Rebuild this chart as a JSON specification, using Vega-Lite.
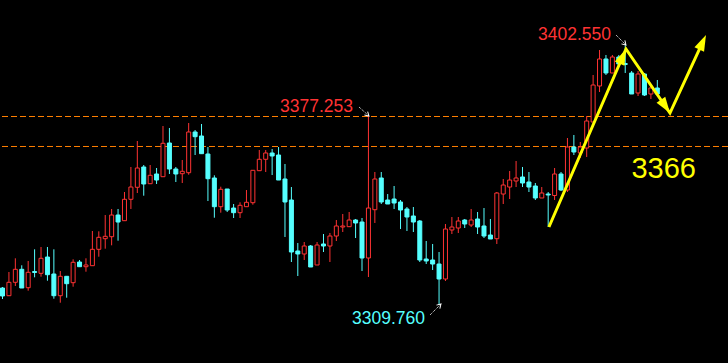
{
"$schema":"https://vega.github.io/schema/vega-lite/v6.json",
"width":728,"height":363,
"autosize":{"type":"none"},
"padding":0,
"background":"#000000",
"config":{"view":{"stroke":null}},
"datasets":{
"levels":[{"p":3377.07},{"p":3366.36}],
"candles":[
{"i":1,"o":3315.82,"h":3316.18,"l":3311.89,"c":3312.97,"d":"down"},
{"i":2,"o":3313.07,"h":3321.54,"l":3313.07,"c":3317.86,"d":"up"},
{"i":3,"o":3317.86,"h":3326.43,"l":3316.54,"c":3322.50,"d":"up"},
{"i":4,"o":3322.50,"h":3323.93,"l":3315.82,"c":3315.82,"d":"down"},
{"i":5,"o":3315.93,"h":3325.47,"l":3314.86,"c":3321.43,"d":"up"},
{"i":6,"o":3321.72,"h":3329.64,"l":3319.64,"c":3321.36,"d":"down"},
{"i":7,"o":3321.07,"h":3330.47,"l":3319.86,"c":3326.43,"d":"up"},
{"i":8,"o":3326.89,"h":3330.47,"l":3318.43,"c":3320.57,"d":"down"},
{"i":9,"o":3320.82,"h":3329.64,"l":3312.00,"c":3313.07,"d":"down"},
{"i":10,"o":3313.07,"h":3321.89,"l":3310.57,"c":3320.00,"d":"up"},
{"i":11,"o":3320.00,"h":3320.00,"l":3312.36,"c":3317.36,"d":"down"},
{"i":12,"o":3317.72,"h":3326.07,"l":3316.29,"c":3325.00,"d":"up"},
{"i":13,"o":3325.11,"h":3325.82,"l":3323.43,"c":3323.43,"d":"down"},
{"i":14,"o":3323.43,"h":3326.43,"l":3321.64,"c":3324.04,"d":"up"},
{"i":15,"o":3323.79,"h":3336.18,"l":3323.79,"c":3329.64,"d":"up"},
{"i":16,"o":3329.64,"h":3336.07,"l":3327.00,"c":3333.93,"d":"up"},
{"i":17,"o":3333.43,"h":3341.89,"l":3329.86,"c":3334.29,"d":"up"},
{"i":18,"o":3334.14,"h":3344.04,"l":3331.07,"c":3341.89,"d":"up"},
{"i":19,"o":3341.89,"h":3344.04,"l":3332.72,"c":3339.39,"d":"down"},
{"i":20,"o":3339.86,"h":3350.11,"l":3339.86,"c":3347.50,"d":"up"},
{"i":21,"o":3347.50,"h":3359.04,"l":3344.04,"c":3351.89,"d":"up"},
{"i":22,"o":3351.79,"h":3368.32,"l":3349.75,"c":3358.68,"d":"up"},
{"i":23,"o":3359.04,"h":3359.75,"l":3348.79,"c":3352.97,"d":"down"},
{"i":24,"o":3353.07,"h":3359.75,"l":3353.07,"c":3356.07,"d":"up"},
{"i":25,"o":3356.54,"h":3358.68,"l":3352.97,"c":3354.39,"d":"down"},
{"i":26,"o":3355.57,"h":3373.68,"l":3355.57,"c":3367.50,"d":"up"},
{"i":27,"o":3367.61,"h":3372.97,"l":3356.54,"c":3358.32,"d":"down"},
{"i":28,"o":3358.32,"h":3359.04,"l":3353.68,"c":3356.54,"d":"down"},
{"i":29,"o":3356.64,"h":3361.54,"l":3353.32,"c":3357.50,"d":"up"},
{"i":30,"o":3357.00,"h":3374.75,"l":3356.29,"c":3371.54,"d":"up"},
{"i":31,"o":3371.54,"h":3372.25,"l":3363.32,"c":3369.86,"d":"down"},
{"i":32,"o":3370.11,"h":3374.39,"l":3363.79,"c":3363.79,"d":"down"},
{"i":33,"o":3363.68,"h":3366.18,"l":3346.89,"c":3354.86,"d":"down"},
{"i":34,"o":3355.11,"h":3356.07,"l":3340.93,"c":3344.86,"d":"down"},
{"i":35,"o":3344.86,"h":3352.00,"l":3342.72,"c":3351.07,"d":"up"},
{"i":36,"o":3351.18,"h":3351.18,"l":3342.97,"c":3343.68,"d":"down"},
{"i":37,"o":3344.39,"h":3345.82,"l":3340.82,"c":3342.72,"d":"down"},
{"i":38,"o":3342.72,"h":3346.43,"l":3340.82,"c":3345.36,"d":"up"},
{"i":39,"o":3344.86,"h":3350.82,"l":3344.86,"c":3346.43,"d":"up"},
{"i":40,"o":3346.29,"h":3357.86,"l":3345.57,"c":3357.86,"d":"up"},
{"i":41,"o":3357.72,"h":3365.11,"l":3357.72,"c":3361.79,"d":"up"},
{"i":42,"o":3361.79,"h":3365.11,"l":3357.25,"c":3364.04,"d":"up"},
{"i":43,"o":3364.04,"h":3365.47,"l":3356.18,"c":3362.97,"d":"down"},
{"i":44,"o":3363.32,"h":3366.18,"l":3354.39,"c":3354.39,"d":"down"},
{"i":45,"o":3354.75,"h":3360.11,"l":3334.04,"c":3346.54,"d":"down"},
{"i":46,"o":3347.25,"h":3351.89,"l":3325.11,"c":3328.68,"d":"down"},
{"i":47,"o":3329.04,"h":3331.89,"l":3320.11,"c":3327.97,"d":"down"},
{"i":48,"o":3327.97,"h":3332.25,"l":3325.82,"c":3330.82,"d":"up"},
{"i":49,"o":3330.82,"h":3331.18,"l":3323.32,"c":3323.32,"d":"down"},
{"i":50,"o":3324.04,"h":3332.25,"l":3324.04,"c":3331.18,"d":"up"},
{"i":51,"o":3331.54,"h":3335.11,"l":3328.68,"c":3330.82,"d":"down"},
{"i":52,"o":3330.82,"h":3335.47,"l":3325.11,"c":3334.39,"d":"up"},
{"i":53,"o":3334.39,"h":3340.11,"l":3332.61,"c":3337.97,"d":"up"},
{"i":54,"o":3337.61,"h":3342.25,"l":3335.82,"c":3337.97,"d":"up"},
{"i":55,"o":3337.72,"h":3342.97,"l":3337.72,"c":3340.11,"d":"up"},
{"i":56,"o":3340.11,"h":3340.47,"l":3333.68,"c":3339.04,"d":"down"},
{"i":57,"o":3339.39,"h":3340.82,"l":3321.89,"c":3326.54,"d":"down"},
{"i":58,"o":3326.54,"h":3377.25,"l":3319.75,"c":3344.39,"d":"up"},
{"i":59,"o":3343.79,"h":3357.25,"l":3339.04,"c":3354.75,"d":"up"},
{"i":60,"o":3355.11,"h":3357.25,"l":3345.82,"c":3346.54,"d":"down"},
{"i":61,"o":3347.25,"h":3349.39,"l":3345.82,"c":3345.82,"d":"down"},
{"i":62,"o":3347.61,"h":3352.25,"l":3344.04,"c":3346.18,"d":"down"},
{"i":63,"o":3346.54,"h":3347.25,"l":3336.89,"c":3343.68,"d":"down"},
{"i":64,"o":3344.04,"h":3344.75,"l":3336.18,"c":3341.18,"d":"down"},
{"i":65,"o":3341.54,"h":3344.75,"l":3335.82,"c":3339.39,"d":"down"},
{"i":66,"o":3339.75,"h":3340.11,"l":3325.11,"c":3325.82,"d":"down"},
{"i":67,"o":3326.18,"h":3332.61,"l":3324.39,"c":3325.47,"d":"down"},
{"i":68,"o":3325.82,"h":3331.54,"l":3322.25,"c":3324.39,"d":"down"},
{"i":69,"o":3324.39,"h":3328.68,"l":3309.76,"c":3319.04,"d":"down"},
{"i":70,"o":3319.04,"h":3338.68,"l":3318.32,"c":3336.89,"d":"up"},
{"i":71,"o":3336.54,"h":3341.18,"l":3335.11,"c":3337.61,"d":"up"},
{"i":72,"o":3337.25,"h":3341.18,"l":3335.47,"c":3339.75,"d":"up"},
{"i":73,"o":3340.11,"h":3340.47,"l":3337.25,"c":3338.68,"d":"down"},
{"i":74,"o":3338.32,"h":3344.04,"l":3337.61,"c":3340.11,"d":"up"},
{"i":75,"o":3340.47,"h":3342.97,"l":3335.11,"c":3337.61,"d":"down"},
{"i":76,"o":3337.97,"h":3344.39,"l":3333.68,"c":3334.39,"d":"down"},
{"i":77,"o":3334.75,"h":3340.47,"l":3333.32,"c":3333.32,"d":"down"},
{"i":78,"o":3333.43,"h":3350.11,"l":3331.54,"c":3349.75,"d":"up"},
{"i":79,"o":3349.39,"h":3354.75,"l":3345.82,"c":3352.61,"d":"up"},
{"i":80,"o":3351.89,"h":3357.61,"l":3347.61,"c":3354.39,"d":"up"},
{"i":81,"o":3354.04,"h":3361.18,"l":3351.89,"c":3355.11,"d":"up"},
{"i":82,"o":3355.47,"h":3359.04,"l":3351.89,"c":3353.32,"d":"down"},
{"i":83,"o":3353.68,"h":3357.25,"l":3350.11,"c":3351.89,"d":"down"},
{"i":84,"o":3352.25,"h":3353.32,"l":3347.25,"c":3347.97,"d":"down"},
{"i":85,"o":3347.97,"h":3351.89,"l":3347.97,"c":3349.75,"d":"up"},
{"i":86,"o":3349.39,"h":3350.11,"l":3337.61,"c":3349.04,"d":"down"},
{"i":87,"o":3348.86,"h":3358.68,"l":3347.25,"c":3356.54,"d":"up"},
{"i":88,"o":3356.54,"h":3357.25,"l":3350.46,"c":3350.82,"d":"down"},
{"i":89,"o":3350.82,"h":3369.39,"l":3350.11,"c":3366.18,"d":"up"},
{"i":90,"o":3366.18,"h":3370.47,"l":3363.32,"c":3364.39,"d":"down"},
{"i":91,"o":3364.04,"h":3367.97,"l":3362.25,"c":3366.18,"d":"up"},
{"i":92,"o":3365.82,"h":3377.25,"l":3362.61,"c":3375.47,"d":"up"},
{"i":93,"o":3375.11,"h":3391.89,"l":3375.11,"c":3388.32,"d":"up"},
{"i":94,"o":3387.97,"h":3400.82,"l":3385.82,"c":3397.61,"d":"up"},
{"i":95,"o":3397.61,"h":3399.04,"l":3391.89,"c":3392.61,"d":"down"},
{"i":96,"o":3392.61,"h":3399.04,"l":3392.61,"c":3398.32,"d":"up"},
{"i":97,"o":3398.32,"h":3399.04,"l":3395.82,"c":3395.82,"d":"down"},
{"i":98,"o":3396.00,"h":3402.55,"l":3392.61,"c":3395.64,"d":"down"},
{"i":99,"o":3392.61,"h":3393.32,"l":3385.11,"c":3385.11,"d":"down"},
{"i":100,"o":3385.47,"h":3393.32,"l":3384.39,"c":3392.25,"d":"up"},
{"i":101,"o":3392.25,"h":3392.61,"l":3384.39,"c":3384.75,"d":"down"},
{"i":102,"o":3385.11,"h":3388.32,"l":3383.32,"c":3387.25,"d":"up"},
{"i":103,"o":3387.25,"h":3390.11,"l":3385.11,"c":3385.11,"d":"down"}
],
"path":[{"k":1,"i":86.12,"p":3337.61},{"k":2,"i":98.12,"p":3401.18},{"k":3,"i":104.97,"p":3378.32},{"k":4,"i":110.19,"p":3404.25}],
"heads":[{"id":1,"i":98.12,"p":3401.18},{"id":2,"i":104.97,"p":3378.32},{"id":3,"i":110.58,"p":3406.18}],
"ptr":[{"id":1,"i":96.56,"p":3406.18,"i2":98.12,"p2":3402.61},{"id":2,"i":56.53,"p":3380.47,"i2":58.09,"p2":3377.25},{"id":3,"i":67.59,"p":3306.18,"i2":69.30,"p2":3310.11}],
"labels":[{"id":1,"t":"3402.550","i":95.78,"p":3404.57},{"id":2,"t":"3377.253","i":55.59,"p":3378.79},{"id":3,"t":"3309.760","i":66.81,"p":3302.86},{"id":4,"t":"3366","i":109.02,"p":3355.11}]
},
"layer":[
{"data":{"name":"levels"},"mark":{"type":"rule","color":"#ff7f00","strokeDash":[6,3],"strokeWidth":1},
 "encoding":{"y":{"field":"p","type":"quantitative","scale":{"domain":[3289.04,3418.68],"nice":false,"zero":false,"padding":0},"axis":null}}},
{"data":{"name":"candles"},"mark":{"type":"rule","strokeWidth":1},
 "encoding":{
  "x":{"field":"i","type":"quantitative","scale":{"domain":[0.61,114.01],"nice":false,"zero":false,"padding":0},"axis":null},
  "y":{"field":"l","type":"quantitative","scale":{"domain":[3289.04,3418.68],"nice":false,"zero":false,"padding":0},"axis":null},
  "y2":{"field":"h"},
  "color":{"field":"d","type":"nominal","scale":{"domain":["up","down"],"range":["#ff3333","#55ffff"]},"legend":null}}},
{"data":{"name":"candles"},"mark":{"type":"bar","size":4,"strokeWidth":1},
 "encoding":{
  "x":{"field":"i","type":"quantitative","scale":{"domain":[0.61,114.01],"nice":false,"zero":false,"padding":0},"axis":null},
  "y":{"field":"o","type":"quantitative","scale":{"domain":[3289.04,3418.68],"nice":false,"zero":false,"padding":0},"axis":null},
  "y2":{"field":"c"},
  "fill":{"field":"d","type":"nominal","scale":{"domain":["up","down"],"range":["#000000","#55ffff"]},"legend":null},
  "stroke":{"field":"d","type":"nominal","scale":{"domain":["up","down"],"range":["#ff3333","#55ffff"]},"legend":null}}},
{"data":{"name":"path"},"mark":{"type":"line","color":"#ffff00","strokeWidth":3,"strokeJoin":"miter"},
 "encoding":{
  "x":{"field":"i","type":"quantitative","axis":null},
  "y":{"field":"p","type":"quantitative","axis":null},
  "order":{"field":"k","type":"quantitative"}}},
{"data":{"name":"heads"},"transform":[{"filter":"datum.id == 1"}],"mark":{"type":"point","shape":"M0,0 L-0.33,1 L0.33,1 Z","size":1024,"filled":true,"color":"#ffff00","opacity":1,"strokeWidth":0,"angle":23.4},
 "encoding":{"x":{"field":"i","type":"quantitative","axis":null},"y":{"field":"p","type":"quantitative","axis":null}}},
{"data":{"name":"heads"},"transform":[{"filter":"datum.id == 2"}],"mark":{"type":"point","shape":"M0,0 L-0.33,1 L0.33,1 Z","size":1024,"filled":true,"color":"#ffff00","opacity":1,"strokeWidth":0,"angle":145.5},
 "encoding":{"x":{"field":"i","type":"quantitative","axis":null},"y":{"field":"p","type":"quantitative","axis":null}}},
{"data":{"name":"heads"},"transform":[{"filter":"datum.id == 3"}],"mark":{"type":"point","shape":"M0,0 L-0.33,1 L0.33,1 Z","size":1024,"filled":true,"color":"#ffff00","opacity":1,"strokeWidth":0,"angle":24.8},
 "encoding":{"x":{"field":"i","type":"quantitative","axis":null},"y":{"field":"p","type":"quantitative","axis":null}}},
{"data":{"name":"ptr"},"mark":{"type":"rule","color":"#ffffff","strokeWidth":1,"strokeDash":[1,1]},
 "encoding":{"x":{"field":"i","type":"quantitative","axis":null},"y":{"field":"p","type":"quantitative","axis":null},"x2":{"field":"i2"},"y2":{"field":"p2"}}},
{"data":{"name":"ptr"},"transform":[{"filter":"datum.id == 1"}],"mark":{"type":"point","shape":"M-0.6,1 L0,0 L0.6,1","size":64,"filled":false,"color":"#ffffff","opacity":1,"strokeWidth":1,"angle":135},
 "encoding":{"x":{"field":"i2","type":"quantitative","axis":null},"y":{"field":"p2","type":"quantitative","axis":null}}},
{"data":{"name":"ptr"},"transform":[{"filter":"datum.id == 2"}],"mark":{"type":"point","shape":"M-0.6,1 L0,0 L0.6,1","size":64,"filled":false,"color":"#ffffff","opacity":1,"strokeWidth":1,"angle":132},
 "encoding":{"x":{"field":"i2","type":"quantitative","axis":null},"y":{"field":"p2","type":"quantitative","axis":null}}},
{"data":{"name":"ptr"},"transform":[{"filter":"datum.id == 3"}],"mark":{"type":"point","shape":"M-0.6,1 L0,0 L0.6,1","size":64,"filled":false,"color":"#ffffff","opacity":1,"strokeWidth":1,"angle":45},
 "encoding":{"x":{"field":"i2","type":"quantitative","axis":null},"y":{"field":"p2","type":"quantitative","axis":null}}},
{"data":{"name":"labels"},"transform":[{"filter":"datum.id <= 2"}],"mark":{"type":"text","align":"right","baseline":"alphabetic","font":"Liberation Sans","fontSize":17.5,"color":"#ff3333"},
 "encoding":{"x":{"field":"i","type":"quantitative","axis":null},"y":{"field":"p","type":"quantitative","axis":null},"text":{"field":"t"}}},
{"data":{"name":"labels"},"transform":[{"filter":"datum.id == 3"}],"mark":{"type":"text","align":"right","baseline":"alphabetic","font":"Liberation Sans","fontSize":17.5,"color":"#55ffff"},
 "encoding":{"x":{"field":"i","type":"quantitative","axis":null},"y":{"field":"p","type":"quantitative","axis":null},"text":{"field":"t"}}},
{"data":{"name":"labels"},"transform":[{"filter":"datum.id == 4"}],"mark":{"type":"text","align":"right","baseline":"alphabetic","font":"Liberation Sans","fontSize":29,"color":"#ffff00"},
 "encoding":{"x":{"field":"i","type":"quantitative","axis":null},"y":{"field":"p","type":"quantitative","axis":null},"text":{"field":"t"}}}
]
}
